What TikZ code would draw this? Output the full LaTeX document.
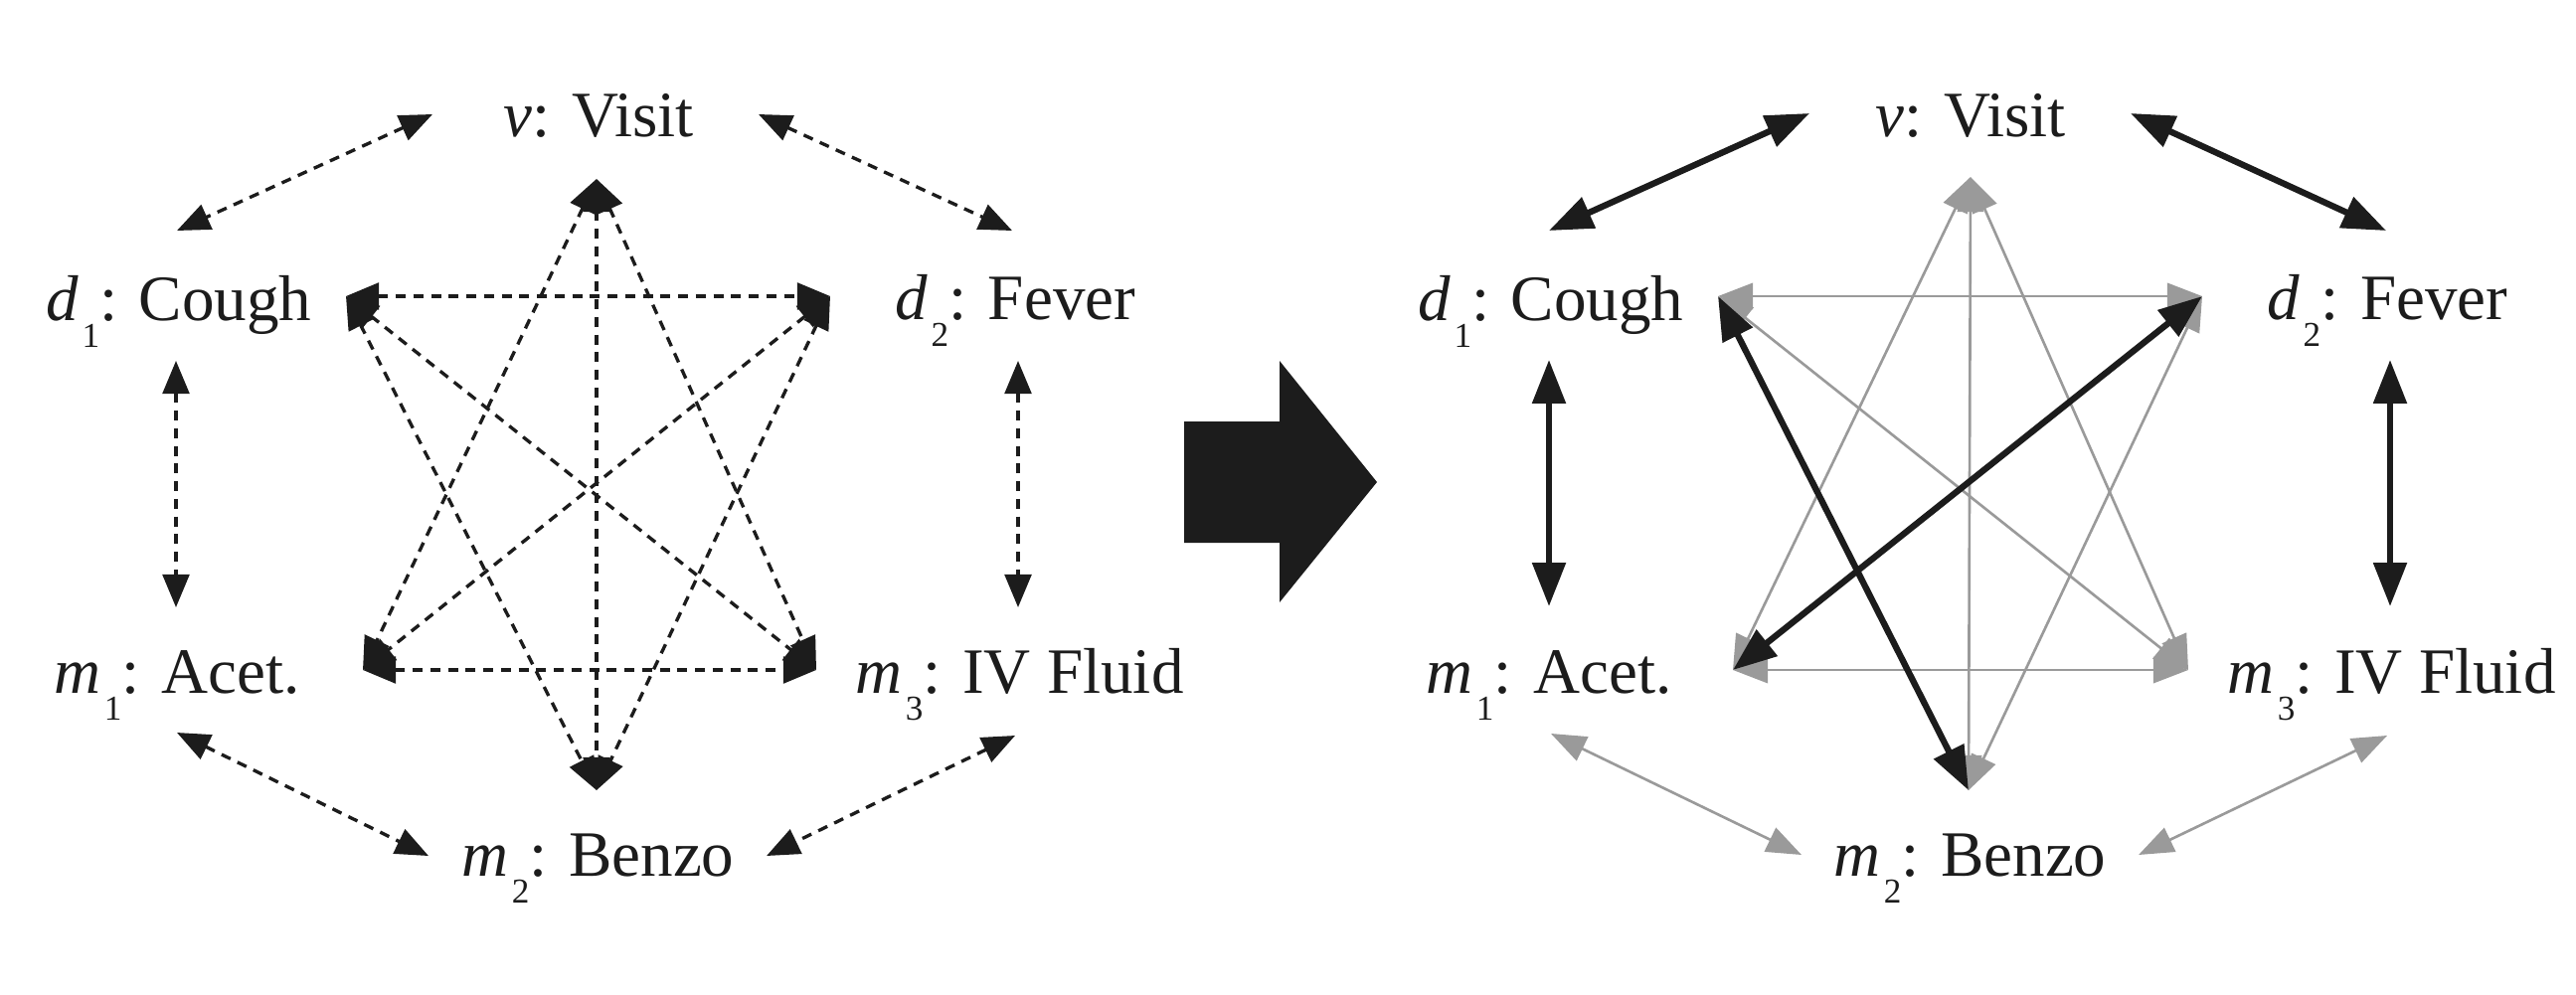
\documentclass[tikz,border=0pt]{standalone}
\usepackage{fontspec}
\setmainfont{Liberation Serif}
\usetikzlibrary{arrows.meta}
\definecolor{ink}{HTML}{1C1C1C}
\definecolor{lgray}{HTML}{9A9A9A}
\newcommand{\lbl}[3]{\textit{#1}\kern0.05em\raisebox{-0.42em}{\fontsize{10pt}{10pt}\selectfont #2}: #3}
\tikzset{
  lab/.style={anchor=base west, inner sep=0pt, text=ink, font=\fontsize{18.5pt}{20pt}\selectfont},
  dsh/.style={draw=ink, line width=0.95pt, dash pattern=on 2.85pt off 2.2pt,
    {Triangle[length=9.4pt,width=7.6pt]}-{Triangle[length=9.4pt,width=7.6pt]}},
  blk/.style={draw=ink, line width=1.8pt,
    {Triangle[length=12.5pt,width=9.3pt]}-{Triangle[length=12.5pt,width=9.3pt]}},
  gry/.style={draw=lgray, line width=0.75pt,
    {Triangle[length=10pt,width=7.5pt]}-{Triangle[length=10pt,width=7.5pt]}}
}
\begin{document}
\begin{tikzpicture}[x=0.01cm,y=-0.01cm]
\useasboundingbox (0,0) rectangle (2591,1000);
% ---------------- left diagram ----------------
\node[lab] (Lv)  at (506,137) {\textit{v}: Visit};
\node[lab] (Ld1) at (46,322)  {\lbl{d}{1}{Cough}};
\node[lab] (Ld2) at (900,321) {\lbl{d}{2}{Fever}};
\node[lab] (Lm1) at (54,697)  {\lbl{m}{1}{Acet.}};
\node[lab] (Lm3) at (860,697) {\lbl{m}{3}{IV Fluid}};
\node[lab] (Lm2) at (464,881) {\lbl{m}{2}{Benzo}};
% outer endpoints
\coordinate (La1) at (435,115); \coordinate (Lb1) at (178,232);
\coordinate (La2) at (763,115); \coordinate (Lb2) at (1018,232);
\coordinate (Lc1) at (177,363); \coordinate (Lc2) at (177,611);
\coordinate (Le1) at (1024,363); \coordinate (Le2) at (1024,611);
\coordinate (Lf1) at (178,737); \coordinate (Lf2) at (431,861);
\coordinate (Lg1) at (1021,740); \coordinate (Lg2) at (771,861);
% inner star points
\coordinate (LT) at (600,180);
\coordinate (LI1) at (348,298);
\coordinate (LI2) at (835,298);
\coordinate (LJ1) at (365,674);
\coordinate (LJ3) at (821,674);
\coordinate (LB) at (600,795);
\draw[dsh] (La1) -- (Lb1);
\draw[dsh] (La2) -- (Lb2);
\draw[dsh] (Lc1) -- (Lc2);
\draw[dsh] (Le1) -- (Le2);
\draw[dsh] (Lf1) -- (Lf2);
\draw[dsh] (Lg1) -- (Lg2);
\draw[dsh] (LT) -- (LJ1);
\draw[dsh] (LT) -- (LJ3);
\draw[dsh] (LT) -- (LB);
\draw[dsh] (LI1) -- (LI2);
\draw[dsh] (LI1) -- (LJ3);
\draw[dsh] (LI1) -- (LB);
\draw[dsh] (LI2) -- (LJ1);
\draw[dsh] (LI2) -- (LB);
\draw[dsh] (LJ1) -- (LJ3);
% ---------------- block arrow ----------------
\fill[ink] (1191,424) -- (1287,424) -- (1287,363) -- (1385,485) -- (1287,606) -- (1287,546) -- (1191,546) -- cycle;
% ---------------- right diagram ----------------
\node[lab] (Rv)  at (1886,137) {\textit{v}: Visit};
\node[lab] (Rd1) at (1426,322) {\lbl{d}{1}{Cough}};
\node[lab] (Rd2) at (2280,321) {\lbl{d}{2}{Fever}};
\node[lab] (Rm1) at (1434,697) {\lbl{m}{1}{Acet.}};
\node[lab] (Rm3) at (2240,697) {\lbl{m}{3}{IV Fluid}};
\node[lab] (Rm2) at (1844,881) {\lbl{m}{2}{Benzo}};
\coordinate (Ra1) at (1820,114); \coordinate (Rb1) at (1558,232);
\coordinate (Ra2) at (2143,114); \coordinate (Rb2) at (2400,232);
\coordinate (Rc1) at (1558,362); \coordinate (Rc2) at (1558,610);
\coordinate (Re1) at (2404,362); \coordinate (Re2) at (2404,610);
\coordinate (Rf1) at (1560,738); \coordinate (Rf2) at (1812,860);
\coordinate (Rg1) at (2401,740); \coordinate (Rg2) at (2151,860);
\coordinate (RT) at (1982,178);
\coordinate (RI1) at (1728,298);
\coordinate (RI2) at (2215,298);
\coordinate (RJ1) at (1743,674);
\coordinate (RJ3) at (2201,674);
\coordinate (RB) at (1980,795);
\draw[gry] (RT) -- (RJ1);
\draw[gry] (RT) -- (RJ3);
\draw[gry] (RT) -- (RB);
\draw[gry] (RI1) -- (RI2);
\draw[gry] (RI1) -- (RJ3);
\draw[gry] (RI2) -- (RB);
\draw[gry] (RJ1) -- (RJ3);
\draw[gry] (Rf1) -- (Rf2);
\draw[gry] (Rg1) -- (Rg2);
\draw[blk] (Ra1) -- (Rb1);
\draw[blk] (Ra2) -- (Rb2);
\draw[blk] (Rc1) -- (Rc2);
\draw[blk] (Re1) -- (Re2);
\draw[blk] (RI1) -- (RB);
\draw[blk] (RI2) -- (RJ1);
\end{tikzpicture}
\end{document}
